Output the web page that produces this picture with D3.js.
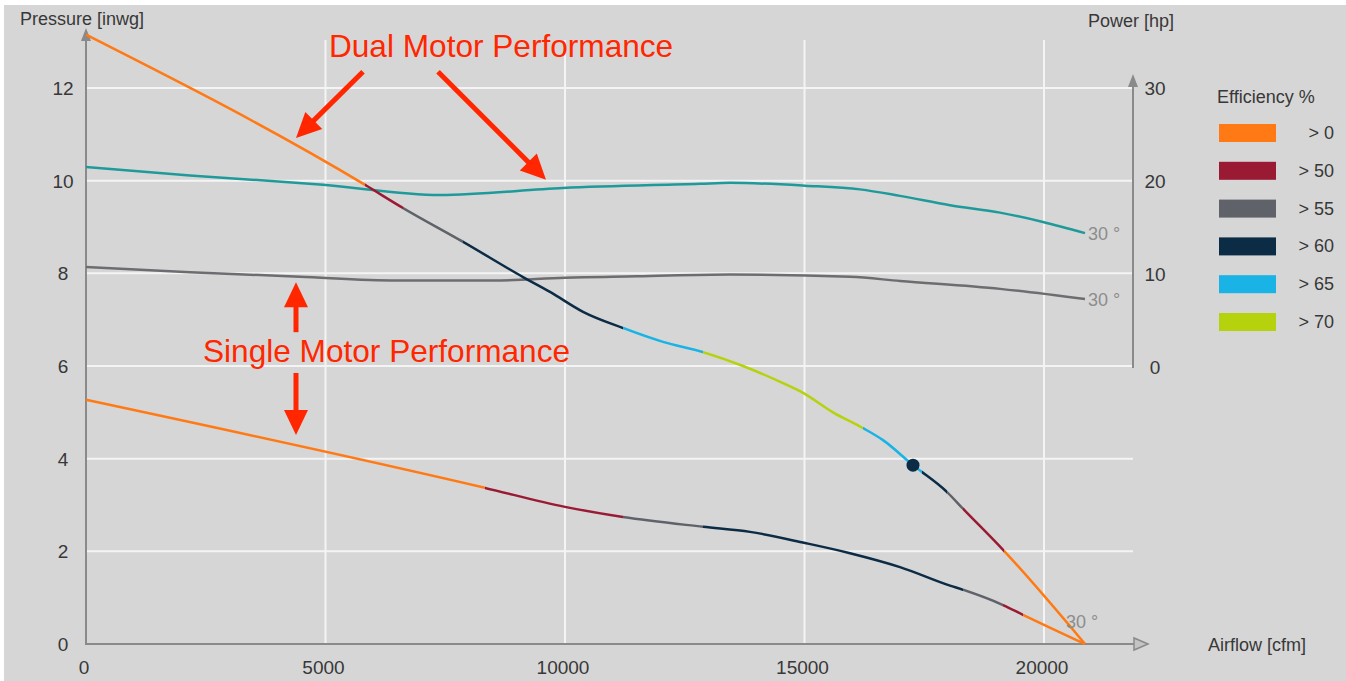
<!DOCTYPE html>
<html>
<head>
<meta charset="utf-8">
<script src="https://cdn.jsdelivr.net/npm/d3@7"></script>
<style>
  html, body { margin: 0; padding: 0; background: #ffffff; }
  svg { display: block; font-family: "Liberation Sans", Arial, sans-serif; }
</style>
</head>
<body>
<div id="fanChart"></div>
<script>
// efficiency classes and their colours
var effClasses = [0, 50, 55, 60, 65, 70];
var effColors = ["#ff7a14", "#9b1a33", "#5f6369", "#0c2b45", "#19b3e5", "#b6d20c"];

// dual motor pressure curve [cfm], [inwg]
var dualAirflow = [0, 5825, 6618, 7871, 9123, 9687, 10376, 11211, 12046, 12881, 13716, 14551, 14969, 15595, 16221, 16639, 17265, 17975, 18309, 19165, 20856];
var dualPressure = [13.15, 9.91, 9.41, 8.68, 7.92, 7.6, 7.17, 6.82, 6.52, 6.30, 6.0, 5.63, 5.42, 5.0, 4.66, 4.40, 3.86, 3.28, 2.92, 2.01, 0];
var dualBreaks = [5825, 6618, 7871, 11211, 12881, 16221, 17453, 17975, 18309, 19165];
var dualBandEff = [0, 50, 55, 60, 65, 70, 65, 60, 55, 50, 0];

// single motor pressure curve
var singleAirflow = [0, 8330, 10000, 11211, 12881, 13862, 15010, 15950, 16994, 18038, 18309, 19144, 19562, 20856];
var singlePressure = [5.27, 3.37, 2.96, 2.74, 2.53, 2.42, 2.18, 1.96, 1.66, 1.26, 1.17, 0.84, 0.63, 0];
var singleBreaks = [8330, 11211, 12881, 18309, 19144, 19562];
var singleBandEff = [0, 50, 55, 60, 55, 50, 0];

// power curves [hp]
var dualPowerAirflow = [0, 2171, 4948, 7390, 9958, 12818, 13444, 15010, 16159, 16994, 18038, 19081, 19979, 20856];
var dualPower = [21.5, 20.6, 19.6, 18.5, 19.25, 19.7, 19.8, 19.5, 19.1, 18.4, 17.4, 16.6, 15.6, 14.4];
var singlePowerAirflow = [0, 2171, 4467, 6493, 8500, 10000, 11500, 13444, 15950, 16994, 19081, 20856];
var singlePower = [10.75, 10.2, 9.7, 9.3, 9.3, 9.6, 9.75, 9.95, 9.7, 9.25, 8.4, 7.3];

// operating point
var opPoint = {cfm: 17265, p: 3.86};

// ticks
var xTicks = [0, 5000, 10000, 15000, 20000];
var pressureTicks = [0, 2, 4, 6, 8, 10, 12];
var powerTicks = [0, 10, 20, 30];
var bladeLabel = "30 °";

const svgWidth = 1346, svgHeight = 681;
var textColor = "#383838";
var axisColor = "#8a8a8a";

var xScale = d3.scaleLinear().domain([0, 20000]).range([86, 1044]);
var yScale = d3.scaleLinear().domain([0, 12]).range([644, 88]);
var powerScale = d3.scaleLinear().domain([0, 30]).range([367, 88]);

var svg = d3.select("#fanChart").append("svg")
    .attr("width", svgWidth)
    .attr("height", svgHeight);

// panel
svg.append("rect")
    .attr("x", 4).attr("y", 5)
    .attr("width", svgWidth - 4).attr("height", svgHeight - 5)
    .attr("fill", "#d6d6d6");

var rightX = 1133;

// grid
var grid = svg.append("g").attr("stroke", "#f4f4f4").attr("stroke-width", 2);
grid.selectAll("line.h")
    .data(pressureTicks.filter(d => d > 0))
    .enter().append("line")
    .attr("x1", xScale(0)).attr("x2", rightX)
    .attr("y1", d => yScale(d)).attr("y2", d => yScale(d));
grid.selectAll("line.v")
    .data(xTicks.filter(d => d > 0))
    .enter().append("line")
    .attr("x1", d => xScale(d)).attr("x2", d => xScale(d))
    .attr("y1", 40).attr("y2", yScale(0));

// axes lines with arrows
var axes = svg.append("g").attr("stroke", axisColor).attr("stroke-width", 2).attr("fill", "none");
axes.append("line").attr("x1", xScale(0)).attr("x2", xScale(0)).attr("y1", yScale(0) + 1).attr("y2", 36);
axes.append("line").attr("x1", xScale(0) - 1).attr("x2", 1136).attr("y1", yScale(0)).attr("y2", yScale(0));
axes.append("line").attr("x1", rightX).attr("x2", rightX).attr("y1", powerScale(0) + 1).attr("y2", 84);
svg.append("path")
    .attr("d", "M" + xScale(0) + ",28 l-5,13 l10,0 z")
    .attr("fill", axisColor);
svg.append("path")
    .attr("d", "M" + rightX + ",74 l-5,13 l10,0 z")
    .attr("fill", axisColor);
svg.append("path")
    .attr("d", "M1148," + yScale(0) + " l-14,-6 l0,12 z")
    .attr("fill", "#c4c4c4").attr("stroke", axisColor).attr("stroke-width", 1.5);

// tick labels
var ticks = svg.append("g").attr("fill", textColor).style("font-size", "19px").attr("text-anchor", "middle");
ticks.selectAll("text.x")
    .data(xTicks).enter().append("text")
    .attr("x", d => xScale(d) - 2).attr("y", 674)
    .text(d => d);
ticks.selectAll("text.y")
    .data(pressureTicks).enter().append("text")
    .attr("x", 63).attr("y", d => yScale(d) + 7)
    .text(d => d);
ticks.selectAll("text.p")
    .data(powerTicks).enter().append("text")
    .attr("x", 1155).attr("y", d => powerScale(d) + 7)
    .text(d => d);

// axis titles
var titles = svg.append("g").attr("fill", textColor).style("font-size", "18px");
titles.append("text").attr("x", 20).attr("y", 25).text("Pressure [inwg]");
titles.append("text").attr("x", 1088).attr("y", 27).text("Power [hp]");
titles.append("text").attr("x", 1208).attr("y", 651).text("Airflow [cfm]");

// power curves
var powerLine = d3.line()
    .x(d => xScale(d[0]))
    .y(d => powerScale(d[1]))
    .curve(d3.curveMonotoneX);

svg.append("path")
    .datum(d3.zip(dualPowerAirflow, dualPower))
    .attr("d", powerLine)
    .attr("fill", "none").attr("stroke", "#1f9a9b").attr("stroke-width", 2.5);
svg.append("path")
    .datum(d3.zip(singlePowerAirflow, singlePower))
    .attr("d", powerLine)
    .attr("fill", "none").attr("stroke", "#6c6d70").attr("stroke-width", 2.5);

// pressure curves, coloured by efficiency band via clip rects
var pressureLine = d3.line()
    .x(d => xScale(d[0]))
    .y(d => yScale(d[1]))
    .curve(d3.curveMonotoneX);

var defs = svg.append("defs");
function drawBanded(name, airflow, pressure, breaks, bandEff) {
    var edges = [-1000].concat(breaks).concat([22000]);
    var pts = d3.zip(airflow, pressure);
    for (let i = 0; i < bandEff.length; i++) {
        var id = "clip-" + name + "-" + i;
        defs.append("clipPath").attr("id", id)
            .append("rect")
            .attr("x", xScale(edges[i]))
            .attr("width", xScale(edges[i + 1]) - xScale(edges[i]))
            .attr("y", 0).attr("height", svgHeight);
        svg.append("path")
            .datum(pts)
            .attr("d", pressureLine)
            .attr("clip-path", "url(#" + id + ")")
            .attr("fill", "none")
            .attr("stroke", effColors[effClasses.indexOf(bandEff[i])])
            .attr("stroke-width", 2.5);
    }
}
drawBanded("dual", dualAirflow, dualPressure, dualBreaks, dualBandEff);
drawBanded("single", singleAirflow, singlePressure, singleBreaks, singleBandEff);

// operating point
svg.append("circle")
    .attr("cx", xScale(opPoint.cfm)).attr("cy", yScale(opPoint.p))
    .attr("r", 6.5).attr("fill", "#0c2b45");

// blade angle labels
var blade = svg.append("g").attr("fill", "#8d8d8d").style("font-size", "18px");
blade.append("text")
    .attr("x", xScale(dualPowerAirflow[dualPowerAirflow.length - 1]) + 3)
    .attr("y", powerScale(dualPower[dualPower.length - 1]) + 7)
    .text(bladeLabel);
blade.append("text")
    .attr("x", xScale(singlePowerAirflow[singlePowerAirflow.length - 1]) + 3)
    .attr("y", powerScale(singlePower[singlePower.length - 1]) + 7)
    .text(bladeLabel);
blade.append("text")
    .attr("x", xScale(dualAirflow[dualAirflow.length - 1]) - 19)
    .attr("y", yScale(0) - 16)
    .text(bladeLabel);

// legend
var legend = svg.append("g").style("font-size", "18px").attr("fill", textColor);
legend.append("text").attr("x", 1217).attr("y", 103).text("Efficiency %");
var rows = legend.selectAll("g.row")
    .data(effClasses).enter().append("g")
    .attr("transform", (d, i) => "translate(0," + (133 + i * 37.8) + ")");
rows.append("rect")
    .attr("x", 1219).attr("y", -9)
    .attr("width", 57).attr("height", 18)
    .attr("fill", (d, i) => effColors[i]);
rows.append("text")
    .attr("x", 1334).attr("y", 6)
    .attr("text-anchor", "end")
    .text(d => "> " + d);

// red annotations (positions in data units)
var annoColor = "#ff2600";
var annoTexts = [
    {text: "Dual Motor Performance", cfm: 5073, p: 12.67},
    {text: "Single Motor Performance", cfm: 2443, p: 6.09}
];
var annoArrows = [
    {from: [5783, 12.35], to: [4384, 10.92]},
    {from: [7349, 12.35], to: [9603, 10.02]},
    {from: [4384, 6.73], to: [4384, 7.81]},
    {from: [4384, 5.85], to: [4384, 4.51]}
];

var anno = svg.append("g");
anno.selectAll("text")
    .data(annoTexts).enter().append("text")
    .attr("x", d => xScale(d.cfm)).attr("y", d => yScale(d.p))
    .attr("fill", annoColor)
    .style("font-size", "31.6px")
    .text(d => d.text);

annoArrows.forEach(function(a) {
    var x1 = xScale(a.from[0]), y1 = yScale(a.from[1]);
    var x2 = xScale(a.to[0]), y2 = yScale(a.to[1]);
    var len = Math.hypot(x2 - x1, y2 - y1);
    var ux = (x2 - x1) / len, uy = (y2 - y1) / len;
    var headLen = 25, headHalf = 12;
    var bx = x2 - ux * headLen, by = y2 - uy * headLen;
    anno.append("line")
        .attr("x1", x1).attr("y1", y1)
        .attr("x2", bx + ux * 2).attr("y2", by + uy * 2)
        .attr("stroke", annoColor).attr("stroke-width", 5);
    anno.append("path")
        .attr("d", "M" + x2 + "," + y2 +
            "L" + (bx - uy * headHalf) + "," + (by + ux * headHalf) +
            "L" + (bx + uy * headHalf) + "," + (by - ux * headHalf) + "Z")
        .attr("fill", annoColor);
});
</script>
</body>
</html>
